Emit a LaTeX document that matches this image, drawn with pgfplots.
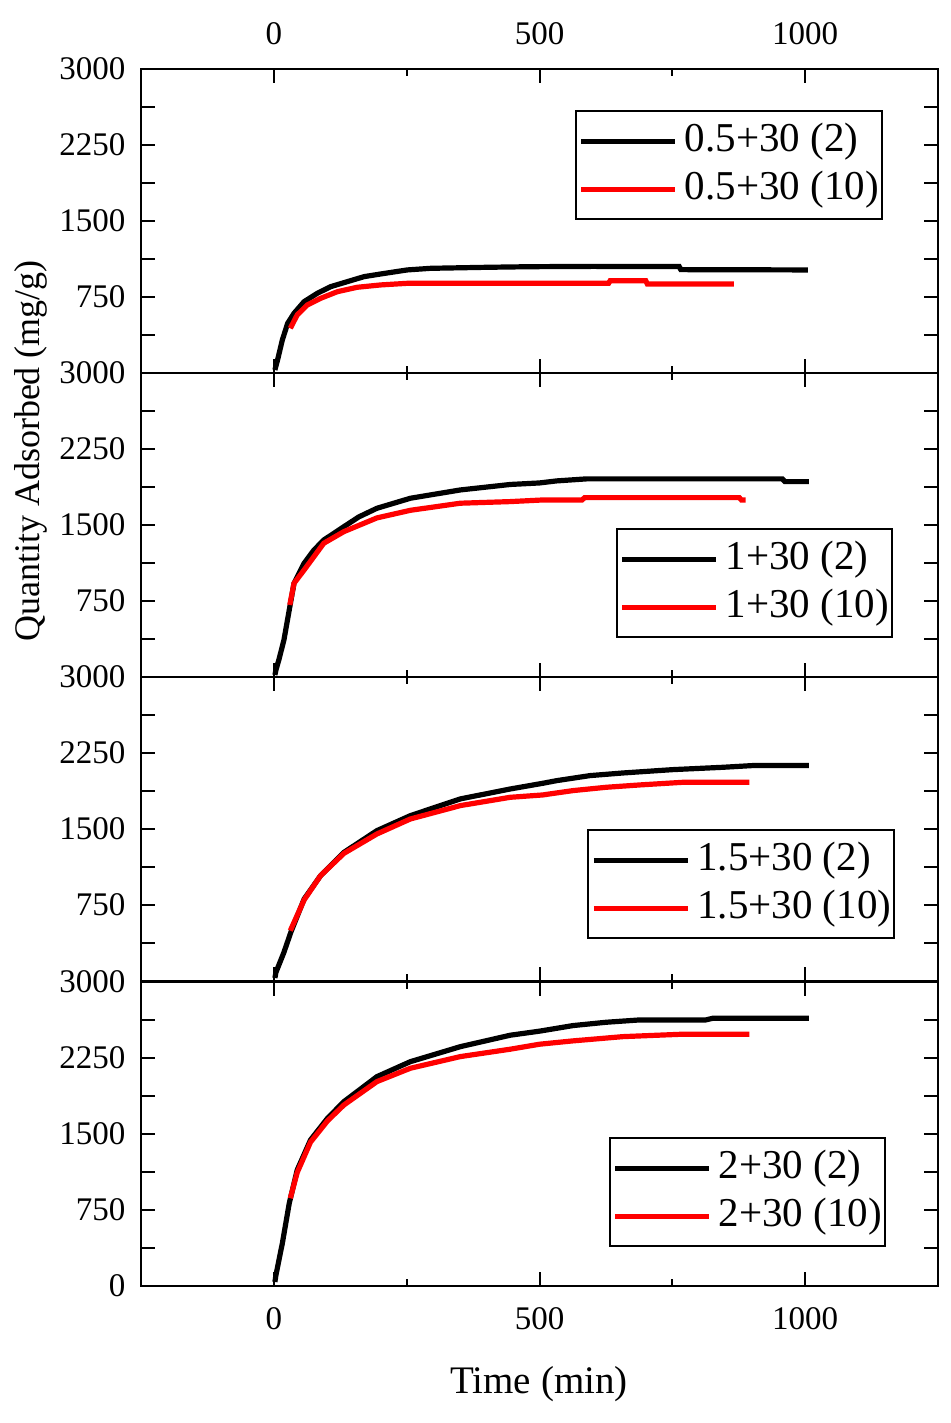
\documentclass[border=0pt]{standalone}
\usepackage{fontspec}
\setmainfont{Liberation Serif}
\usepackage{pgfplots}
\pgfplotsset{compat=1.18}
\begin{document}
\begin{tikzpicture}
\path[use as bounding box] (0pt,0pt) rectangle (475pt,-711.5pt);
\pgfplotsset{
 panel/.style={
  scale only axis, width=398.5pt, height=152pt, anchor=north west,
  xmin=-250, xmax=1250, ymin=0, ymax=3000,
  xtick={0,500,1000}, minor xtick={250,750},
  ytick={0,375,...,3000},
  tick align=inside, xtick pos=both, ytick pos=both,
  major tick length=7pt, minor tick length=3.5pt,
  axis line style={line width=1pt},
  major tick style={line width=1pt,black},
  minor tick style={line width=1pt,black},
  tick label style={font=\fontsize{16.5}{19}\selectfont},
  yticklabel style={xshift=-4.3pt},
  legend cell align=left,
  legend style={draw=black, line width=1pt, fill=white, inner xsep=1.5pt, inner ysep=5pt, row sep=4pt, column sep=3.5pt,
    font=\fontsize{20.5}{24}\selectfont, nodes={inner sep=0pt, text height=15pt, text depth=5pt}},
  legend image code/.code={\draw[##1,line width=2.5pt] (0pt,0pt) -- (47pt,0pt);},
 },
 blk/.style={black, line width=2.6pt},
 rd/.style={red, line width=2.6pt},
}
% Panel 1
\begin{axis}[panel, at={(70.5pt,-34.5pt)},
  xticklabel pos=upper, xtick pos=both,
  xticklabels={0,500,1000}, xticklabel style={yshift=8.7pt},
  yticklabels={,,750,,1500,,2250,,3000},
  legend style={at={(0.5445,0.865)}, anchor=north west}]
\addplot[blk] coordinates {(2,30)(7,128)(16,326)(26,490)(38,589)(57,704)(82,787)(107,852)(138,901)(170,951)(201,977)(251,1017)(295,1033)(400,1043)(482,1049)(600,1052)(763,1050)(766,1020)(1005,1017)};
\addlegendentry{0.5+30 (2)}
\addplot[rd] coordinates {(31,441)(44,573)(63,671)(88,737)(120,803)(157,846)(201,869)(251,885)(482,885)(630,885)(633,911)(700,911)(703,878)(866,878)};
\addlegendentry{0.5+30 (10)}
\end{axis}
% Panel 2
\begin{axis}[panel, at={(70.5pt,-186.5pt)},
  xticklabels={},
  yticklabels={,,750,,1500,,2250,,3000},
  legend style={at={(0.5956,0.489)}, anchor=north west}]
\addplot[blk] coordinates {(2,20)(4,69)(10,180)(19,365)(29,661)(38,925)(57,1122)(75,1250)(94,1352)(132,1484)(160,1580)(194,1665)(257,1764)(351,1846)(445,1900)(500,1915)(532,1935)(588,1955)(957,1955)(962,1928)(1007,1928)};
\addlegendentry{1+30 (2)}
\addplot[rd] coordinates {(30,711)(38,925)(57,1056)(94,1320)(132,1435)(194,1570)(257,1645)(351,1715)(445,1731)(506,1747)(580,1747)(585,1770)(876,1770)(880,1747)(888,1747)};
\addlegendentry{1+30 (10)}
\end{axis}
% Panel 3
\begin{axis}[panel, at={(70.5pt,-338.5pt)},
  xticklabels={},
  yticklabels={,,750,,1500,,2250,,3000},
  legend style={at={(0.56,0.5)}, anchor=north west}]
\addplot[blk] coordinates {(2,30)(4,86)(19,283)(32,481)(57,809)(88,1040)(132,1270)(194,1484)(257,1632)(351,1797)(445,1895)(506,1951)(532,1977)(595,2027)(657,2053)(751,2086)(845,2109)(901,2126)(1007,2126)};
\addlegendentry{1.5+30 (2)}
\addplot[rd] coordinates {(31,497)(57,800)(88,1040)(132,1260)(194,1451)(257,1599)(351,1731)(445,1813)(506,1836)(563,1879)(626,1912)(689,1935)(770,1961)(895,1961)};
\addlegendentry{1.5+30 (10)}
\end{axis}
% Panel 4
\begin{axis}[panel, at={(70.5pt,-491pt)},
  xticklabels={0,500,1000}, xticklabel style={yshift=-7pt},
  yticklabels={0,,750,,1500,,2250,,3000},
  legend style={at={(0.587,0.49)}, anchor=north west}]
\addplot[blk] coordinates {(2,40)(4,109)(16,421)(29,816)(44,1145)(69,1441)(101,1655)(132,1820)(194,2066)(257,2214)(351,2362)(445,2475)(500,2515)(563,2570)(626,2603)(689,2626)(813,2626)(826,2642)(1007,2642)};
\addlegendentry{2+30 (2)}
\addplot[rd] coordinates {(31,866)(44,1120)(69,1420)(101,1630)(132,1787)(194,2017)(257,2149)(351,2264)(445,2337)(500,2386)(563,2419)(657,2461)(770,2485)(895,2485)};
\addlegendentry{2+30 (10)}
\end{axis}
\node[rotate=90, font=\fontsize{18}{22}\selectfont] at (15.5pt,-225.5pt) {Quantity Adsorbed (mg/g)};
\node[anchor=base, font=\fontsize{19.5}{24}\selectfont] at (269.5pt,-696.5pt) {Time (min)};
\end{tikzpicture}
\end{document}
